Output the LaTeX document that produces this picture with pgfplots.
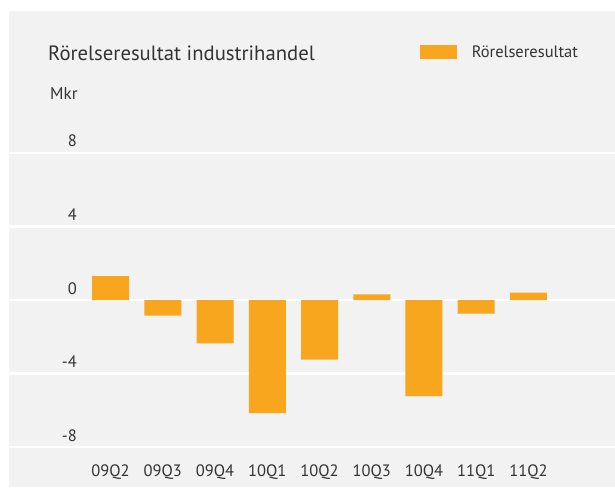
\documentclass[border=0pt]{standalone}
\usepackage{fontspec}
\setmainfont{PT Sans}
\usepackage{pgfplots}
\pgfplotsset{compat=1.18}
\definecolor{barorange}{RGB}{248,166,29}
\definecolor{panel}{RGB}{242,242,242}
\definecolor{txt}{RGB}{51,51,51}
\begin{document}
\begin{tikzpicture}[x=1pt,y=1pt]
\fill[white] (0,0) rectangle (615,487);
\fill[panel] (9,0) rectangle (615,476);
\begin{axis}[
  at={(9pt,0pt)}, anchor=south west,
  scale only axis, width=606pt, height=476pt,
  xmin=-1.943, xmax=9.656, ymin=-10.163, ymax=15.707,
  axis line style={draw=none},
  ybar, bar width=37pt,
  xtick={0,1,2,3,4,5,6,7,8},
  xticklabels={09Q2,09Q3,09Q4,10Q1,10Q2,10Q3,10Q4,11Q1,11Q2},
  ytick={-8,-4,0,4,8},
  yticklabels={-8,-4,0,4,8},
  major tick length=0pt,
  tick style={draw=none},
  ymajorgrids,
  grid style={white, line width=2.5pt},
  ticklabel style={font=\fontsize{16.5}{18}\selectfont, text=txt, inner sep=0pt},
  yticklabel style={anchor=base east, xshift=68pt, yshift=6pt},
  xticklabel style={anchor=base, yshift=11pt},
  legend style={at={(rel axis cs:0.6776,0.914)}, anchor=west, draw=none, fill=none,
    inner sep=0pt, font=\fontsize{16.5}{18}\selectfont, text=txt,
    /tikz/every odd column/.append style={column sep=13pt}},
  legend image code/.code={\fill[barorange] (0pt,-7pt) rectangle (37pt,7pt);},
]
\addplot[fill=barorange, draw=none] coordinates {(0,1.3) (1,-0.85) (2,-2.36) (3,-6.15) (4,-3.24) (5,0.3) (6,-5.22) (7,-0.74) (8,0.4)};
\addlegendentry{Rörelseresultat}
\end{axis}
\node[anchor=base west, inner sep=0pt, text=txt, font=\fontsize{20.7}{24}\selectfont] at (48,426.3) {Rörelseresultat industrihandel};
\node[anchor=base west, inner sep=0pt, text=txt, font=\fontsize{17}{20}\selectfont] at (50,387) {Mkr};
\pgfresetboundingbox
\path (0,0) rectangle (615,487);
\end{tikzpicture}
\end{document}
